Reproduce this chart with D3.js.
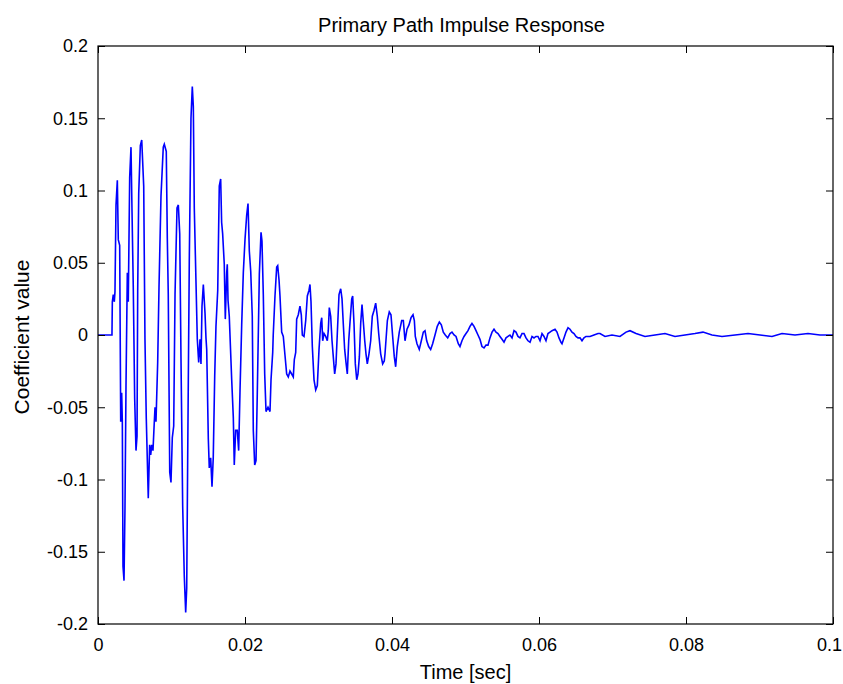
<!DOCTYPE html>
<html>
<head>
<meta charset="utf-8">
<script src="https://cdn.jsdelivr.net/npm/d3@7"></script>
<style>
  html, body { margin: 0; padding: 0; background: #ffffff; }
  svg text { font-family: "Liberation Sans", Arial, Helvetica, sans-serif; fill: #000; }
</style>
</head>
<body>
<svg id="chart" width="843" height="684"></svg>
<script>
const chartTitle = "Primary Path Impulse Response";
const xLabel = "Time [sec]";
const yLabel = "Coefficient value";

const xTicks = [0, 0.02, 0.04, 0.06, 0.08, 0.1];
const xTickLabels = ["0", "0.02", "0.04", "0.06", "0.08", "0.1"];
const yTicks = [-0.2, -0.15, -0.1, -0.05, 0, 0.05, 0.1, 0.15, 0.2];
const yTickLabels = ["-0.2", "-0.15", "-0.1", "-0.05", "0", "0.05", "0.1", "0.15", "0.2"];

// time (seconds) of each read sample
const timeSec = [
  0.00000, 0.00190, 0.00195, 0.00208, 0.00222, 0.00231, 0.00245, 0.00263, 0.00276, 0.00295,
  0.00309, 0.00322, 0.00331, 0.00340, 0.00354, 0.00367, 0.00381, 0.00399, 0.00412, 0.00431,
  0.00449, 0.00463, 0.00480, 0.00499, 0.00517, 0.00531, 0.00540, 0.00554, 0.00576, 0.00595,
  0.00622, 0.00639, 0.00657, 0.00684, 0.00703, 0.00717, 0.00731, 0.00748, 0.00766, 0.00776,
  0.00789, 0.00812, 0.00830, 0.00857, 0.00888, 0.00902, 0.00929, 0.00943, 0.00956, 0.00976,
  0.00993, 0.01011, 0.01030, 0.01048, 0.01075, 0.01093, 0.01112, 0.01129, 0.01152, 0.01174,
  0.01193, 0.01207, 0.01220, 0.01242, 0.01265, 0.01283, 0.01297, 0.01310, 0.01333, 0.01351,
  0.01370, 0.01388, 0.01401, 0.01415, 0.01433, 0.01456, 0.01469, 0.01479, 0.01501, 0.01514,
  0.01533, 0.01551, 0.01568, 0.01588, 0.01605, 0.01629, 0.01650, 0.01669, 0.01682, 0.01696,
  0.01718, 0.01732, 0.01751, 0.01759, 0.01769, 0.01786, 0.01819, 0.01841, 0.01854, 0.01873,
  0.01895, 0.01914, 0.01932, 0.01955, 0.01977, 0.02000, 0.02023, 0.02041, 0.02059, 0.02078,
  0.02099, 0.02113, 0.02132, 0.02150, 0.02167, 0.02195, 0.02218, 0.02231, 0.02249, 0.02268,
  0.02286, 0.02313, 0.02340, 0.02354, 0.02377, 0.02384, 0.02408, 0.02431, 0.02445, 0.02463,
  0.02476, 0.02499, 0.02521, 0.02544, 0.02567, 0.02589, 0.02612, 0.02635, 0.02657, 0.02671,
  0.02690, 0.02703, 0.02725, 0.02748, 0.02766, 0.02780, 0.02803, 0.02826, 0.02848, 0.02871,
  0.02884, 0.02898, 0.02916, 0.02939, 0.02962, 0.02984, 0.03007, 0.03030, 0.03044, 0.03057,
  0.03075, 0.03098, 0.03120, 0.03133, 0.03147, 0.03166, 0.03184, 0.03201, 0.03220, 0.03238,
  0.03256, 0.03279, 0.03302, 0.03320, 0.03337, 0.03356, 0.03374, 0.03392, 0.03411, 0.03429,
  0.03452, 0.03465, 0.03483, 0.03501, 0.03520, 0.03537, 0.03556, 0.03574, 0.03592, 0.03610,
  0.03629, 0.03646, 0.03664, 0.03687, 0.03710, 0.03732, 0.03755, 0.03778, 0.03800, 0.03819,
  0.03846, 0.03873, 0.03895, 0.03905, 0.03937, 0.03963, 0.03986, 0.04009, 0.04031, 0.04050,
  0.04072, 0.04099, 0.04132, 0.04154, 0.04177, 0.04204, 0.04231, 0.04259, 0.04286, 0.04304,
  0.04317, 0.04340, 0.04371, 0.04399, 0.04426, 0.04449, 0.04472, 0.04499, 0.04526, 0.04553,
  0.04585, 0.04616, 0.04644, 0.04671, 0.04698, 0.04725, 0.04758, 0.04789, 0.04816, 0.04844,
  0.04871, 0.04902, 0.04925, 0.04952, 0.04980, 0.05007, 0.05034, 0.05061, 0.05088, 0.05116,
  0.05143, 0.05170, 0.05197, 0.05224, 0.05252, 0.05279, 0.05306, 0.05333, 0.05361, 0.05388,
  0.05415, 0.05442, 0.05469, 0.05497, 0.05524, 0.05551, 0.05578, 0.05605, 0.05633, 0.05660,
  0.05687, 0.05714, 0.05741, 0.05769, 0.05796, 0.05823, 0.05850, 0.05878, 0.05905, 0.05932,
  0.05959, 0.05986, 0.06014, 0.06041, 0.06068, 0.06095, 0.06122, 0.06150, 0.06177, 0.06218,
  0.06245, 0.06272, 0.06299, 0.06313, 0.06340, 0.06367, 0.06395, 0.06422, 0.06449, 0.06476,
  0.06503, 0.06531, 0.06558, 0.06585, 0.06612, 0.06639, 0.06694, 0.06748, 0.06803, 0.06830,
  0.06898, 0.06993, 0.07102, 0.07184, 0.07238, 0.07320, 0.07442, 0.07578, 0.07714, 0.07850,
  0.07986, 0.08122, 0.08231, 0.08354, 0.08490, 0.08667, 0.08844, 0.09007, 0.09170, 0.09306,
  0.09483, 0.09660, 0.09823, 0.10000
];

// coefficient value at each of those times
const coeff = [
  0.000, 0.000, 0.023, 0.028, 0.023, 0.030, 0.090, 0.107, 0.066, 0.062,
  -0.060, -0.040, -0.060, -0.160, -0.170, -0.120, -0.035, 0.043, 0.023, 0.109,
  0.130, 0.085, 0.033, -0.044, -0.080, -0.070, 0.030, 0.098, 0.131, 0.135,
  0.103, -0.003, -0.058, -0.113, -0.076, -0.083, -0.076, -0.080, -0.060, -0.050,
  -0.060, -0.019, 0.033, 0.096, 0.130, 0.132, 0.127, 0.067, 0.028, -0.095,
  -0.102, -0.071, -0.063, 0.028, 0.088, 0.090, 0.070, -0.016, -0.118, -0.167,
  -0.192, -0.175, -0.087, 0.051, 0.150, 0.172, 0.158, 0.088, 0.037, -0.003,
  -0.019, -0.003, -0.020, 0.020, 0.035, 0.015, -0.002, -0.010, -0.072, -0.092,
  -0.085, -0.105, -0.085, -0.028, 0.006, 0.031, 0.103, 0.108, 0.078, 0.070,
  0.049, 0.011, 0.043, 0.049, 0.024, 0.013, -0.031, -0.057, -0.090, -0.066,
  -0.066, -0.080, -0.039, 0.007, 0.043, 0.066, 0.083, 0.091, 0.058, 0.044,
  0.013, -0.066, -0.090, -0.087, -0.041, 0.042, 0.071, 0.065, 0.028, -0.027,
  -0.053, -0.050, -0.053, -0.031, -0.012, 0.000, 0.027, 0.047, 0.048, 0.038,
  0.027, 0.002, -0.001, -0.014, -0.027, -0.029, -0.025, -0.027, -0.029, -0.017,
  -0.012, 0.011, 0.014, 0.020, 0.014, 0.000, -0.001, 0.010, 0.027, 0.031,
  0.035, 0.023, -0.008, -0.031, -0.038, -0.035, -0.010, 0.008, 0.012, -0.004,
  0.001, -0.001, -0.004, 0.003, 0.019, 0.013, -0.004, -0.015, -0.027, -0.020,
  0.001, 0.028, 0.032, 0.025, 0.008, -0.010, -0.019, -0.027, -0.004, 0.009,
  0.025, 0.027, 0.008, -0.020, -0.031, -0.027, -0.015, 0.008, 0.021, 0.009,
  -0.004, -0.013, -0.020, -0.013, -0.004, 0.013, 0.017, 0.022, 0.013, 0.001,
  -0.013, -0.020, -0.018, -0.013, 0.010, 0.016, 0.014, -0.001, -0.015, -0.022,
  -0.008, 0.002, 0.010, 0.010, -0.004, 0.004, 0.007, 0.012, 0.014, 0.010,
  -0.001, -0.006, -0.010, -0.004, 0.002, 0.003, -0.004, -0.008, -0.010, -0.006,
  0.000, 0.006, 0.009, 0.007, 0.002, 0.000, -0.002, 0.001, 0.002, 0.000,
  -0.001, -0.006, -0.008, -0.004, -0.001, 0.001, 0.003, 0.006, 0.008, 0.006,
  0.003, 0.000, -0.003, -0.008, -0.009, -0.007, -0.007, -0.002, 0.002, 0.004,
  0.002, 0.001, -0.001, -0.003, -0.005, -0.002, -0.001, 0.000, -0.002, 0.003,
  0.002, -0.001, -0.002, 0.001, 0.001, -0.002, -0.004, -0.005, -0.001, -0.002,
  -0.001, -0.001, -0.004, 0.001, -0.001, -0.004, 0.001, 0.002, 0.003, 0.004,
  0.002, -0.002, -0.005, -0.006, -0.002, 0.002, 0.005, 0.004, 0.002, 0.001,
  -0.001, -0.002, -0.002, -0.004, -0.002, -0.001, -0.001, 0.000, 0.001, 0.001,
  -0.001, 0.000, -0.001, 0.002, 0.003, 0.001, -0.001, 0.000, 0.001, -0.001,
  0.000, 0.001, 0.002, 0.000, -0.001, 0.000, 0.001, 0.000, -0.001, 0.001,
  0.000, 0.001, 0.000, 0.000
];

const W = 843, H = 684;
const margin = { top: 46, right: 10, bottom: 60, left: 98 };
const iw = W - margin.left - margin.right;
const ih = H - margin.top - margin.bottom;
const tickFont = 18;
const labelFont = 20;
const tickLen = 7;

const svg = d3.select("#chart");
svg.append("rect").attr("width", W).attr("height", H).attr("fill", "#ffffff");

const g = svg.append("g").attr("transform", `translate(${margin.left},${margin.top})`);

const x = d3.scaleLinear().domain([0, 0.1]).range([0, iw]);
const y = d3.scaleLinear().domain([-0.2, 0.2]).range([ih, 0]);

// data line
const data = timeSec.map((t, i) => ({ t, v: coeff[i] }));
const clipId = "plotclip";
g.append("clipPath").attr("id", clipId)
  .append("rect").attr("width", iw).attr("height", ih);
g.append("path")
  .datum(data)
  .attr("clip-path", `url(#${clipId})`)
  .attr("fill", "none")
  .attr("stroke", "#0000ff")
  .attr("stroke-width", 1.6)
  .attr("stroke-linejoin", "miter")
  .attr("d", d3.line().x(d => x(d.t)).y(d => y(d.v)));

// axes (ticks inward, MATLAB style)
function styleAxis(sel) {
  sel.selectAll(".domain").remove();
  sel.selectAll(".tick line").attr("stroke", "#000").attr("stroke-width", 1);
  sel.selectAll("text").attr("font-size", tickFont).attr("fill", "#000")
    .style("font-family", '"Liberation Sans", Arial, Helvetica, sans-serif');
}

const xAxisB = d3.axisBottom(x).tickValues(xTicks)
  .tickFormat((d, i) => xTickLabels[i]).tickSizeInner(-tickLen).tickSizeOuter(0).tickPadding(14);
const xB = g.append("g").attr("transform", `translate(0,${ih})`).call(xAxisB).call(styleAxis);
// keep the last label inside the page, as the reference does
xB.selectAll(".tick text").filter((d, i) => i === xTicks.length - 1).attr("dx", -4);

const xAxisT = d3.axisTop(x).tickValues(xTicks).tickFormat("").tickSizeInner(-tickLen).tickSizeOuter(0);
g.append("g").call(xAxisT).call(styleAxis);

const yAxisL = d3.axisLeft(y).tickValues(yTicks)
  .tickFormat((d, i) => yTickLabels[i]).tickSizeInner(-tickLen).tickSizeOuter(0).tickPadding(10);
g.append("g").call(yAxisL).call(styleAxis);

const yAxisR = d3.axisRight(y).tickValues(yTicks).tickFormat("").tickSizeInner(-tickLen).tickSizeOuter(0);
g.append("g").attr("transform", `translate(${iw},0)`).call(yAxisR).call(styleAxis);

// box
g.append("rect").attr("x", 0).attr("y", 0).attr("width", iw).attr("height", ih)
  .attr("fill", "none").attr("stroke", "#000").attr("stroke-width", 1.2);

// title and labels
svg.append("text").attr("x", margin.left + iw / 2 - 4).attr("y", 32)
  .attr("text-anchor", "middle").attr("font-size", labelFont).text(chartTitle);

svg.append("text").attr("x", margin.left + iw / 2).attr("y", 679)
  .attr("text-anchor", "middle").attr("font-size", labelFont).text(xLabel);

svg.append("text").attr("transform", `translate(29,${margin.top + ih / 2 + 2}) rotate(-90)`)
  .attr("text-anchor", "middle").attr("font-size", labelFont + 1).text(yLabel);
</script>
</body>
</html>
